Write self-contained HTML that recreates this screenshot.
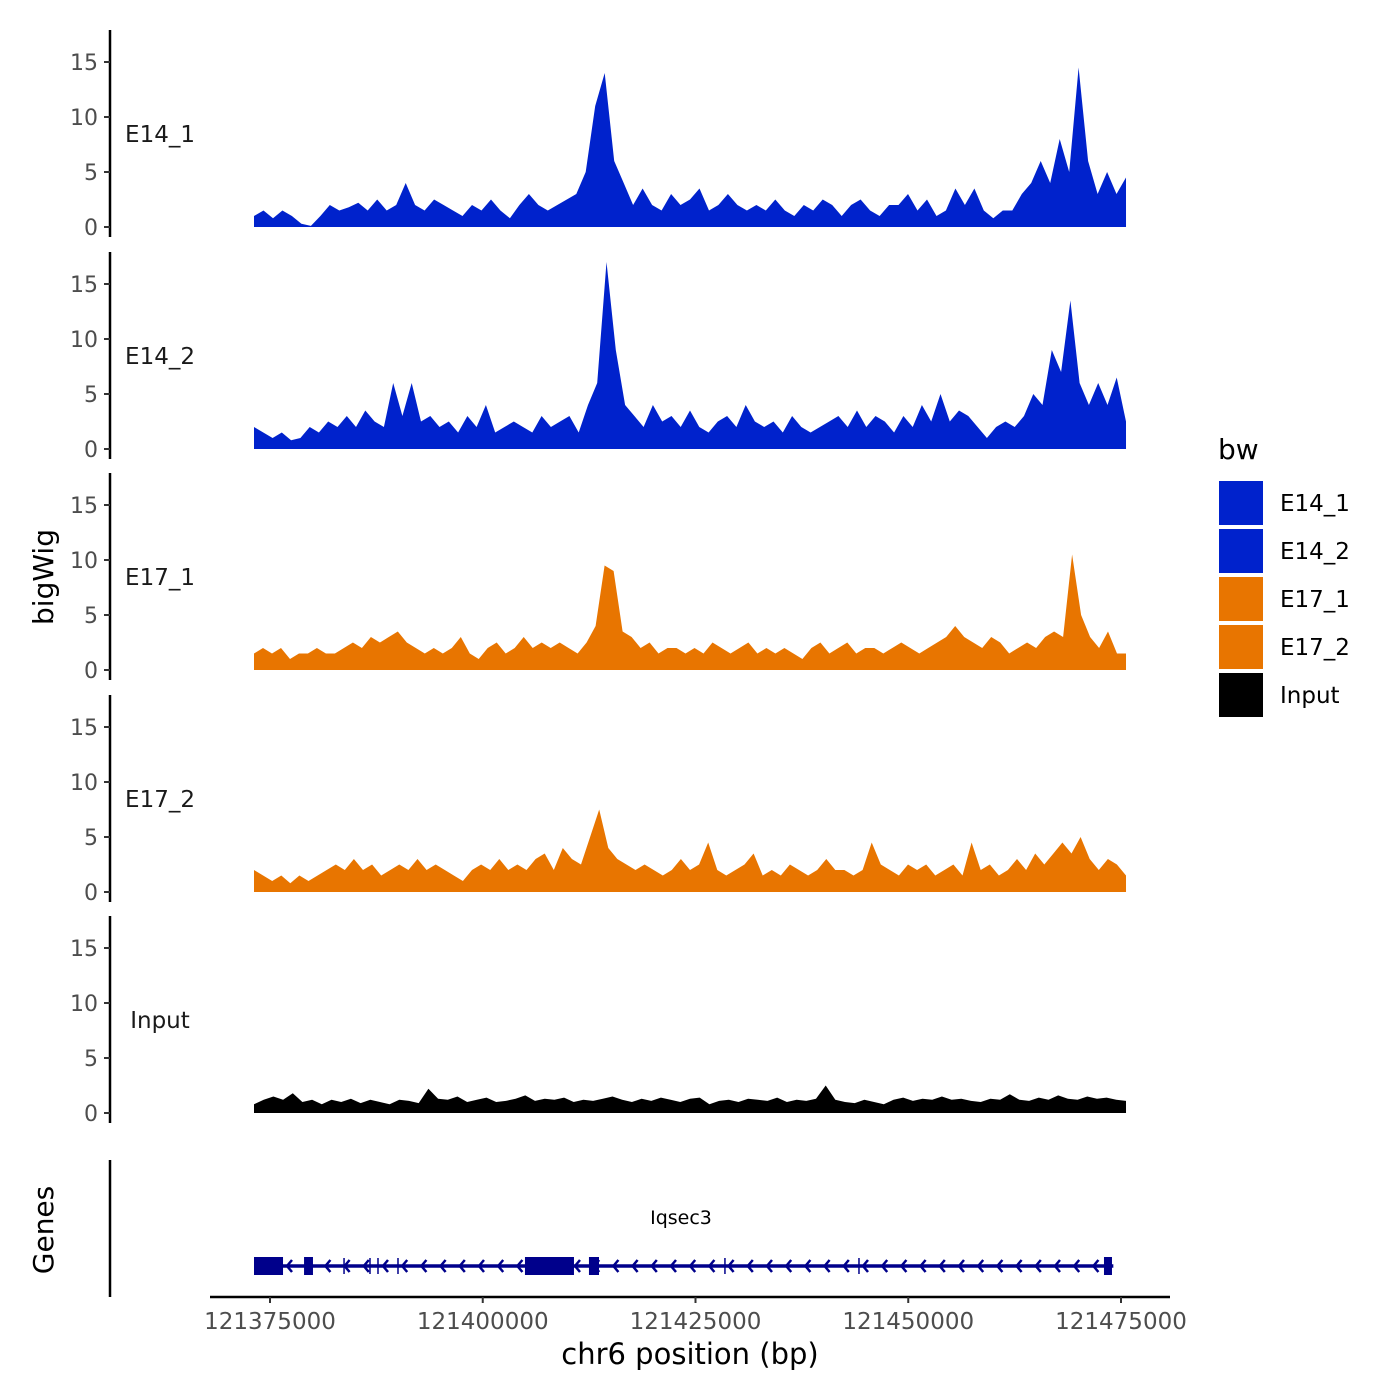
<!DOCTYPE html>
<html><head><meta charset="utf-8">
<style>
html,body{margin:0;padding:0;background:#fff;}
svg{display:block;font-family:"DejaVu Sans","Liberation Sans",sans-serif;}
</style></head>
<body>
<svg id="chart" width="1400" height="1400" viewBox="0 0 1400 1400" xmlns="http://www.w3.org/2000/svg"></svg>
<script>
// ---- data ----
const xStart = 121373120, xEnd = 121475590;
const xTicks = [121375000, 121400000, 121425000, 121450000, 121475000];
const yTicks = [0, 5, 10, 15];
const sampleNames = ["E14_1", "E14_2", "E17_1", "E17_2", "Input"];
const sampleColors = ["#0022cc", "#0022cc", "#e87500", "#e87500", "#000000"];
const e14_1 = [1,1.5,0.8,1.5,1,0.3,0.1,1,2,1.5,1.8,2.2,1.5,2.5,1.5,2,4,2,1.5,2.5,2,1.5,1,2,1.5,2.5,1.5,0.8,2,3,2,1.5,2,2.5,3,5,11,14,6,4,2,3.5,2,1.5,3,2,2.5,3.5,1.5,2,3,2,1.5,2,1.5,2.5,1.5,1,2,1.5,2.5,2,1,2,2.5,1.5,1,2,2,3,1.5,2.5,1,1.5,3.5,2,3.5,1.5,0.8,1.5,1.5,3,4,6,4,8,5,14.5,6,3,5,3,4.5];
const e14_2 = [2,1.5,1,1.5,0.8,1,2,1.5,2.5,2,3,2,3.5,2.5,2,6,3,6,2.5,3,2,2.5,1.5,3,2,4,1.5,2,2.5,2,1.5,3,2,2.5,3,1.5,4,6,17,9,4,3,2,4,2.5,3,2,3.5,2,1.5,2.5,3,2,4,2.5,2,2.5,1.5,3,2,1.5,2,2.5,3,2,3.5,2,3,2.5,1.5,3,2,4,2.5,5,2.5,3.5,3,2,1,2,2.5,2,3,5,4,9,7,13.5,6,4,6,4,6.5,2.5];
const e17_1 = [1.5,2,1.5,2,1,1.5,1.5,2,1.5,1.5,2,2.5,2,3,2.5,3,3.5,2.5,2,1.5,2,1.5,2,3,1.5,1,2,2.5,1.5,2,3,2,2.5,2,2.5,2,1.5,2.5,4,9.5,9,3.5,3,2,2.5,1.5,2,2,1.5,2,1.5,2.5,2,1.5,2,2.5,1.5,2,1.5,2,1.5,1,2,2.5,1.5,2,2.5,1.5,2,2,1.5,2,2.5,2,1.5,2,2.5,3,4,3,2.5,2,3,2.5,1.5,2,2.5,2,3,3.5,3,10.5,5,3,2,3.5,1.5,1.5];
const e17_2 = [2,1.5,1,1.5,0.8,1.5,1,1.5,2,2.5,2,3,2,2.5,1.5,2,2.5,2,3,2,2.5,2,1.5,1,2,2.5,2,3,2,2.5,2,3,3.5,2,4,3,2.5,5,7.5,4,3,2.5,2,2.5,2,1.5,2,3,2,2.5,4.5,2,1.5,2,2.5,3.5,1.5,2,1.5,2.5,2,1.5,2,3,2,2,1.5,2,4.5,2.5,2,1.5,2.5,2,2.5,1.5,2,2.5,1.5,4.5,2,2.5,1.5,2,3,2,3.5,2.5,3.5,4.5,3.5,5,3,2,3,2.5,1.5];
const inputSig = [0.8,1.2,1.5,1.2,1.8,1,1.2,0.8,1.2,1,1.3,0.9,1.2,1,0.8,1.2,1.1,0.9,2.2,1.3,1.2,1.5,1,1.2,1.4,1,1.1,1.3,1.6,1.1,1.3,1.2,1.4,1,1.2,1.1,1.3,1.5,1.2,1,1.3,1.1,1.4,1.2,1,1.3,1.4,0.8,1.1,1.2,1,1.3,1.2,1.1,1.4,1,1.2,1.1,1.3,2.5,1.2,1,0.9,1.2,1,0.8,1.2,1.4,1.1,1.3,1.2,1.5,1.2,1.3,1.1,1,1.3,1.2,1.7,1.2,1.1,1.4,1.2,1.6,1.3,1.2,1.5,1.3,1.4,1.2,1.1];
const geneName = "Iqsec3";
const exonStarts = [121373120, 121379000, 121404960, 121412480, 121473000];
const exonEnds   = [121376530, 121380050, 121410720, 121413660, 121473940];
const intronMarks = [121383700, 121386750, 121387690, 121390040, 121428460, 121444210];
const geneStart = 121373120, geneEnd = 121474100;
const legendLabels = ["E14_1","E14_2","E17_1","E17_2","Input"];
const legendColors = ["#0022cc","#0022cc","#e87500","#e87500","#000000"];

// ---- layout ----
const svg = document.getElementById('chart');
const NS = 'http://www.w3.org/2000/svg';
const px0 = 270, px1 = 1121;
function xScale(v){ return px0 + (v - 121375000) / 100000 * (px1 - px0); }
const panelZero = [227, 449, 670, 892, 1113];
const ppu = 11;
function yScale(p, v){ return panelZero[p] - v * ppu; }
function mk(tag, attrs, parent){ const e = document.createElementNS(NS, tag); for (const k in attrs) e.setAttribute(k, attrs[k]); (parent||svg).appendChild(e); return e; }

const series = [e14_1, e14_2, e17_1, e17_2, inputSig];
for (let p = 0; p < 5; p++) {
  const g = mk('g', {});
  
  
  const ax = mk('line', {x1:110, x2:110, y1:panelZero[p]-197, y2:panelZero[p]+10, stroke:'#000', 'stroke-width':2.5}, g);
  
  
  yTicks.forEach(t => {
    const y = yScale(p, t);
    mk('line', {x1:104, x2:110, y1:y, y2:y, stroke:'#333', 'stroke-width':2}, g);
    const tx = mk('text', {x:98, y:y+8, 'text-anchor':'end', 'font-size':22, fill:'#4d4d4d'}, g);
    tx.textContent = t;
    
    
  });
  const lab = mk('text', {x:160, y:panelZero[p]-85, 'text-anchor':'middle', 'font-size':23, fill:'#1a1a1a'}, g);
  lab.textContent = sampleNames[p];
  
  
  const vals = series[p];
  const n = vals.length;
  let d = 'M' + xScale(xStart) + ',' + panelZero[p];
  vals.forEach((v, i) => {
    const bp = xStart + i * (xEnd - xStart) / (n - 1);
    d += ' L' + xScale(bp).toFixed(1) + ',' + yScale(p, v).toFixed(1);
  });
  d += ' L' + xScale(xEnd) + ',' + panelZero[p] + ' Z';
  const area = mk('path', {d:d, fill:sampleColors[p]}, g);
  
  
}

// y axis title
const yt = mk('text', {x:0, y:0, transform:'translate(53,577) rotate(-90)', 'text-anchor':'middle', 'font-size':28, fill:'#000'});
yt.textContent = 'bigWig';



// genes panel
const gg = mk('g', {});


mk('line', {x1:110, x2:110, y1:1160, y2:1297, stroke:'#000', 'stroke-width':2.5}, gg);
const gt = mk('text', {x:0, y:0, transform:'translate(53,1230) rotate(-90)', 'text-anchor':'middle', 'font-size':28, fill:'#000'}, gg);
gt.textContent = 'Genes';


const gy = 1266, gc = '#00008b';
mk('line', {x1:xScale(geneStart), x2:xScale(geneEnd), y1:gy, y2:gy, stroke:gc, 'stroke-width':3.5}, gg);
for (let x = xScale(geneStart) + 33; x < xScale(geneEnd) - 8; x += 19.2) {
  mk('polyline', {points:(x+5)+','+(gy-6)+' '+x+','+gy+' '+(x+5)+','+(gy+6), fill:'none', stroke:gc, 'stroke-width':2.5}, gg);
}
intronMarks.forEach(m => { mk('line', {x1:xScale(m), x2:xScale(m), y1:gy-8, y2:gy+8, stroke:gc, 'stroke-width':1.5}, gg); });
exonStarts.forEach((s, i) => {
  const r = mk('rect', {x:xScale(s), y:gy-9, width:Math.max(3, xScale(exonEnds[i]) - xScale(s)), height:18, fill:gc}, gg);
  
  
});
const gn = mk('text', {x:681, y:1224, 'text-anchor':'middle', 'font-size':19, fill:'#000'}, gg);
gn.textContent = geneName;



// x axis
const xa = mk('line', {x1:210, x2:1170, y1:1297, y2:1297, stroke:'#000', 'stroke-width':2.5});


xTicks.forEach(t => {
  const x = xScale(t);
  mk('line', {x1:x, x2:x, y1:1297, y2:1303, stroke:'#333', 'stroke-width':2});
  const tx = mk('text', {x:x, y:1329, 'text-anchor':'middle', 'font-size':23, fill:'#4d4d4d'});
  tx.textContent = t;
  
  
});
const xt = mk('text', {x:690, y:1364, 'text-anchor':'middle', 'font-size':29, fill:'#000'});
xt.textContent = 'chr6 position (bp)';



// legend
const lg = mk('g', {});


const ltitle = mk('text', {x:1218, y:459, 'font-size':28, fill:'#000'}, lg);
ltitle.textContent = 'bw';


legendLabels.forEach((l, i) => {
  const y = 480 + i * 48;
  const e = mk('g', {}, lg);
  
  
  mk('rect', {x:1218, y:y, width:46, height:46, fill:legendColors[i], stroke:'#fff', 'stroke-width':2}, e);
  const t = mk('text', {x:1280, y:y+31, 'font-size':23, fill:'#000'}, e);
  t.textContent = l;
});
</script>
</body></html>
